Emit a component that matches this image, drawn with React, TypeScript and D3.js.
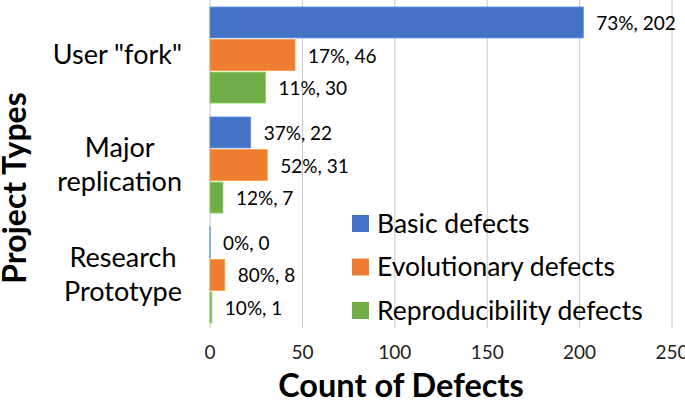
import React, { useEffect, useRef } from "react";
import * as d3 from "d3";

const categories = [["User \"fork\""], ["Major", "replication"], ["Research", "Prototype"]];
const seriesNames = ["Basic defects", "Evolutionary defects", "Reproducibility defects"];
const seriesColors = ["#4472C4", "#ED7D31", "#70AD47"];
const basicValues = [202, 22, 0];
const evolutionaryValues = [46, 31, 8];
const reproducibilityValues = [30, 7, 1];
const basicPct = ["73%", "37%", "0%"];
const evolutionaryPct = ["17%", "52%", "80%"];
const reproducibilityPct = ["11%", "12%", "10%"];
const xTicks = [0, 50, 100, 150, 200, 250];

const FONT = "Lato, 'Open Sans', sans-serif";

export default function App() {
  const ref = useRef<SVGSVGElement>(null);
  useEffect(() => {
    const svg = d3.select(ref.current);
    svg.selectAll("*").remove();
    const left = 210, right = 672, top = 0, bottom = 330;
    const x = d3.scaleLinear().domain([0, 250]).range([left, right]);
    const y0 = d3.scaleBand<number>().domain([0, 1, 2]).range([top, bottom]).paddingInner(0.127).paddingOuter(0.0636);
    const y1 = d3.scaleBand<number>().domain([0, 1, 2]).range([0, y0.bandwidth()]).paddingInner(0.05);
    const values = [basicValues, evolutionaryValues, reproducibilityValues];
    const pcts = [basicPct, evolutionaryPct, reproducibilityPct];

    const g = svg.append("g");
    g.selectAll("line.grid").data(xTicks.slice(1)).join("line")
      .attr("x1", d => x(d)).attr("x2", d => x(d)).attr("y1", 0).attr("y2", 328)
      .attr("stroke", "#c8c8c8").attr("stroke-width", 1);
    g.append("line").attr("x1", x(0)).attr("x2", x(0)).attr("y1", 0).attr("y2", 328)
      .attr("stroke", "#d9d9d9").attr("stroke-width", 1.5);

    for (let s = 0; s < 3; s++) {
      g.selectAll(`rect.s${s}`).data(values[s]).join("rect")
        .attr("x", x(0))
        .attr("y", (_, i) => (y0(i) as number) + (y1(s) as number))
        .attr("width", d => Math.max(x(d) - x(0), 0.01))
        .attr("height", y1.bandwidth())
        .attr("fill", seriesColors[s])
        .attr("stroke", d3.color(seriesColors[s])!.brighter(0.6).toString())
        .attr("stroke-width", d => d === 0 ? 1.2 : 0.8);
      g.selectAll(`text.l${s}`).data(values[s]).join("text")
        .attr("x", d => x(d) + 13)
        .attr("y", (_, i) => (y0(i) as number) + (y1(s) as number) + y1.bandwidth() / 2 + 7.5)
        .attr("font-family", FONT).attr("font-size", 19).attr("fill", "#000")
        .text((d, i) => `${pcts[s][i]}, ${d}`);
    }

    g.selectAll("text.tick").data(xTicks).join("text")
      .attr("x", d => x(d)).attr("y", 359).attr("text-anchor", "middle")
      .attr("font-family", FONT).attr("font-size", 19).attr("fill", "#222")
      .text(d => d);

    const lineH = 34.5;
    categories.forEach((lines, i) => {
      const cy = (y0(i) as number) + y0.bandwidth() / 2;
      const grp = g.append("g");
      const n = lines.length;
      const texts = grp.selectAll("text").data(lines).join("text")
        .attr("y", (_, j) => cy + 9 + (j - (n - 1) / 2) * lineH)
        .attr("font-family", FONT).attr("font-size", 27).attr("fill", "#000")
        .attr("text-anchor", "middle")
        .text(d => d);
      let maxW = 0;
      texts.each(function () { maxW = Math.max(maxW, (this as SVGTextElement).getComputedTextLength()); });
      texts.attr("x", 182 - maxW / 2);
    });

    seriesNames.forEach((name, i) => {
      const cy = 223.5 + i * 43.5;
      g.append("rect").attr("x", 352).attr("y", cy - 8.5).attr("width", 17).attr("height", 17).attr("fill", seriesColors[i]);
      g.append("text").attr("x", 377).attr("y", cy + 9)
        .attr("font-family", FONT).attr("font-size", 26.5).attr("fill", "#000").text(name);
    });

    g.append("text").attr("x", 401).attr("y", 397).attr("text-anchor", "middle")
      .attr("font-family", FONT).attr("font-weight", "bold").attr("font-size", 32.5).attr("fill", "#000")
      .text("Count of Defects");
    g.append("text").attr("transform", "translate(26,188) rotate(-90)").attr("text-anchor", "middle")
      .attr("font-family", FONT).attr("font-weight", "bold").attr("font-size", 32).attr("fill", "#000")
      .text("Project Types");
  }, []);
  return (
    <svg ref={ref} width={685} height={402} style={{ position: "absolute", left: 0, top: 0, background: "#fff" }} />
  );
}
